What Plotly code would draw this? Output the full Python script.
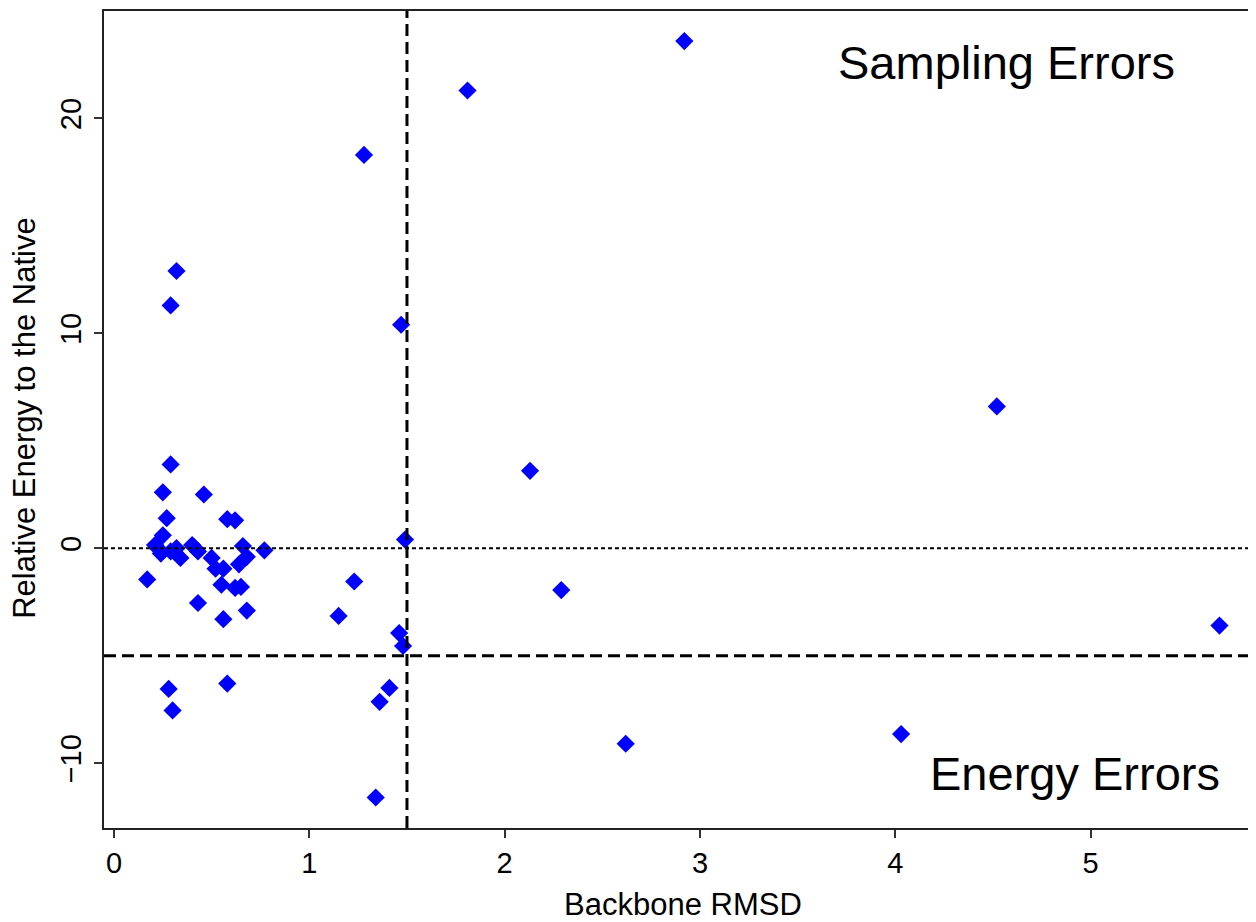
import plotly.graph_objects as go

# backbone RMSD vs relative energy to the native
rmsd = [2.92, 1.81, 1.28, 0.32, 0.29, 1.47, 4.52, 2.13,
        0.29, 0.25, 0.46, 0.27, 0.58, 0.62, 1.49,
        0.25, 0.21, 0.22, 0.24, 0.29, 0.32, 0.34, 0.40, 0.41, 0.43,
        0.50, 0.52, 0.56, 0.55, 0.62, 0.65, 0.66, 0.68, 0.64, 0.77,
        0.17, 0.43, 0.56, 0.68,
        5.66, 2.29, 1.23, 1.15, 1.46, 1.48, 1.41, 1.36, 1.34,
        2.62, 4.03, 0.28, 0.30, 0.58]
energy = [23.6, 21.3, 18.3, 12.9, 11.3, 10.4, 6.6, 3.6,
          3.9, 2.6, 2.5, 1.4, 1.35, 1.3, 0.4,
          0.6, 0.15, 0.05, -0.25, -0.15, 0.0, -0.45, 0.15, 0.05, -0.15,
          -0.45, -0.95, -0.95, -1.7, -1.85, -1.8, 0.1, -0.4, -0.75, -0.1,
          -1.45, -2.55, -3.3, -2.9,
          -3.6, -1.95, -1.55, -3.15, -3.95, -4.55, -6.5, -7.15, -11.6,
          -9.1, -8.65, -6.55, -7.55, -6.3]

rmsd_cut = 1.5
energy_cut = -5

fig = go.Figure()
fig.add_trace(go.Scatter(x=rmsd, y=energy, mode='markers',
                         marker=dict(symbol='diamond', size=14, color='#0000ff',
                                     line=dict(width=0)),
                         showlegend=False, cliponaxis=False))

# reference lines
fig.add_shape(type='line', xref='x', yref='paper', x0=rmsd_cut, x1=rmsd_cut, y0=0, y1=1,
              line=dict(color='black', width=3, dash='12px,6px'))
fig.add_shape(type='line', xref='paper', yref='y', x0=0, x1=1, y0=energy_cut, y1=energy_cut,
              line=dict(color='black', width=3, dash='12px,6px'))
fig.add_shape(type='line', xref='paper', yref='y', x0=0, x1=1, y0=0, y1=0,
              line=dict(color='black', width=2, dash='4px,3px'))

fig.add_annotation(x=4.57, y=22.6, text='Sampling Errors', showarrow=False,
                   font=dict(size=47, color='black'), xanchor='center', yanchor='middle')
fig.add_annotation(x=4.92, y=-10.5, text='Energy Errors', showarrow=False,
                   font=dict(size=47, color='black'), xanchor='center', yanchor='middle')

# axis titles
fig.add_annotation(xref='paper', yref='paper', x=0.503, y=0, yshift=-76,
                   text='Backbone RMSD', showarrow=False, font=dict(size=31),
                   xanchor='center', yanchor='middle')
fig.add_annotation(xref='paper', yref='paper', x=0, y=0.502, xshift=-79,
                   text='Relative Energy to the Native', showarrow=False, font=dict(size=31),
                   textangle=-90, xanchor='center', yanchor='middle')

# page body has an 8px margin, so the figure is sized/offset to compensate
fig.update_layout(
    width=1248, height=914,
    margin=dict(l=96, r=0, t=3, b=94),
    plot_bgcolor='white', paper_bgcolor='white',
    font=dict(family='Liberation Sans, Arial, sans-serif', color='black'),
    showlegend=False,
)
fig.update_xaxes(range=[-0.0512, 5.847], tickvals=[0, 1, 2, 3, 4, 5],
                 showgrid=False, zeroline=False, showline=True, mirror=True,
                 linecolor='#222', linewidth=2, automargin=False,
                 ticks='outside', ticklen=8, tickwidth=1.5, tickcolor='#333',
                 tickfont=dict(size=29), ticklabelstandoff=0)
fig.update_yaxes(range=[-13.02, 25.0], tickvals=[-10, 0, 10, 20],
                 showgrid=False, zeroline=False, showline=True,
                 linecolor='#222', linewidth=2, automargin=False,
                 ticks='outside', ticklen=8, tickwidth=1.5, tickcolor='#333',
                 tickangle=-90, tickfont=dict(size=29), ticklabelstandoff=1)

fig.write_html("out.html")
